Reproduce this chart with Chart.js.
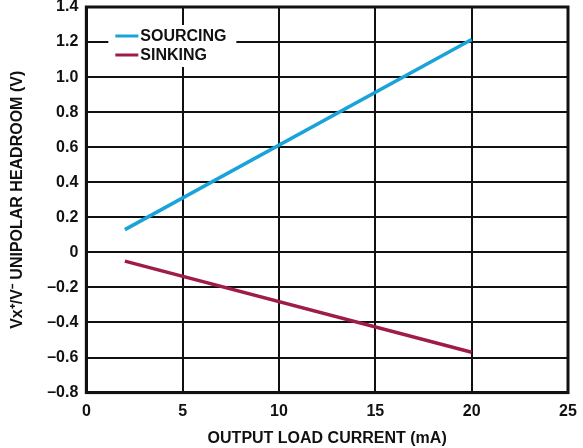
<!DOCTYPE html>
<html>
<head>
<meta charset="utf-8">
<script src="https://cdn.jsdelivr.net/npm/chart.js@4"></script>
<style>
  html, body { margin: 0; padding: 0; background: #fff; }
  #wrap { width: 583px; height: 448px; }
</style>
</head>
<body>
<div id="wrap"><canvas id="chart" width="583" height="448"></canvas></div>
<script>
// data
const loadCurrent = [2, 20];
const sourcing = [0.13, 1.215];
const sinking = [-0.05, -0.57];
const seriesNames = ['SOURCING', 'SINKING'];
const seriesColors = ['#1aa3d9', '#a01c48'];

const FONT = "'Liberation Sans', Arial, sans-serif";

// legend drawn inside the plot, with a white box behind it
const insideLegend = {
    id: 'insideLegend',
    afterDatasetsDraw(chart) {
        const { ctx, chartArea } = chart;
        const x0 = chartArea.left + 29;
        const y0 = chartArea.top + 29;
        ctx.save();
        ctx.fillStyle = '#fff';
        ctx.fillRect(x0 - 7, y0 - 11, 128, 42);
        ctx.font = 'bold 16px ' + FONT;
        ctx.textBaseline = 'middle';
        chart.data.datasets.forEach((ds, i) => {
            const y = y0 + i * 19;
            ctx.strokeStyle = ds.borderColor;
            ctx.lineWidth = 3;
            ctx.beginPath();
            ctx.moveTo(x0, y);
            ctx.lineTo(x0 + 23, y);
            ctx.stroke();
            ctx.fillStyle = '#111';
            ctx.fillText(ds.label, x0 + 25, y + 1);
        });
        ctx.restore();
    }
};

const dash = v => String(v).replace('-', '\u2013');

new Chart(document.getElementById('chart'), {
    type: 'line',
    data: {
        datasets: [
            { label: seriesNames[0], data: loadCurrent.map((x, i) => ({ x, y: sourcing[i] })), borderColor: seriesColors[0], borderWidth: 3.5, pointRadius: 0 },
            { label: seriesNames[1], data: loadCurrent.map((x, i) => ({ x, y: sinking[i] })), borderColor: seriesColors[1], borderWidth: 3.5, pointRadius: 0 }
        ]
    },
    options: {
        responsive: false,
        animation: false,
        layout: { padding: { top: 7, right: 15, left: 8, bottom: 0 } },
        plugins: { legend: { display: false }, tooltip: { enabled: false } },
        scales: {
            x: {
                type: 'linear', min: 0, max: 25,
                afterFit: scale => { scale.paddingRight = 0; },
                ticks: { stepSize: 5, color: '#111', font: { family: FONT, size: 16, weight: 'bold' }, padding: 9 },
                grid: { color: '#111', lineWidth: 2, drawTicks: false },
                border: { color: '#111', width: 3 },
                title: { display: true, text: 'OUTPUT LOAD CURRENT (mA)', color: '#111', font: { family: FONT, size: 16, weight: 'bold' }, padding: { top: -1, bottom: 0 } }
            },
            y: {
                min: -0.8, max: 1.4,
                // let the top tick label overhang so the plot starts near the top edge
                afterFit: scale => { scale.paddingTop = 0; },
                ticks: { stepSize: 0.2, color: '#111', font: { family: FONT, size: 16, weight: 'bold' }, padding: 8,
                    callback: v => dash(Math.abs(v) < 1e-9 ? '0' : v.toFixed(1)) },
                grid: { color: '#111', lineWidth: 2, drawTicks: false },
                border: { color: '#111', width: 3 },
                title: { display: true, text: 'Vx\u207A/V\u207B UNIPOLAR HEADROOM (V)', color: '#111', font: { family: FONT, size: 16, weight: 'bold' }, padding: { top: 0, bottom: 12 } }
            }
        }
    },
    plugins: [insideLegend, {
        id: 'frame',
        afterDraw(chart) {
            const { ctx, chartArea: a } = chart;
            ctx.save();
            ctx.strokeStyle = '#111';
            ctx.lineWidth = 3;
            ctx.strokeRect(a.left, a.top, a.right - a.left, a.bottom - a.top);
            ctx.restore();
        }
    }]
});
</script>
</body>
</html>
